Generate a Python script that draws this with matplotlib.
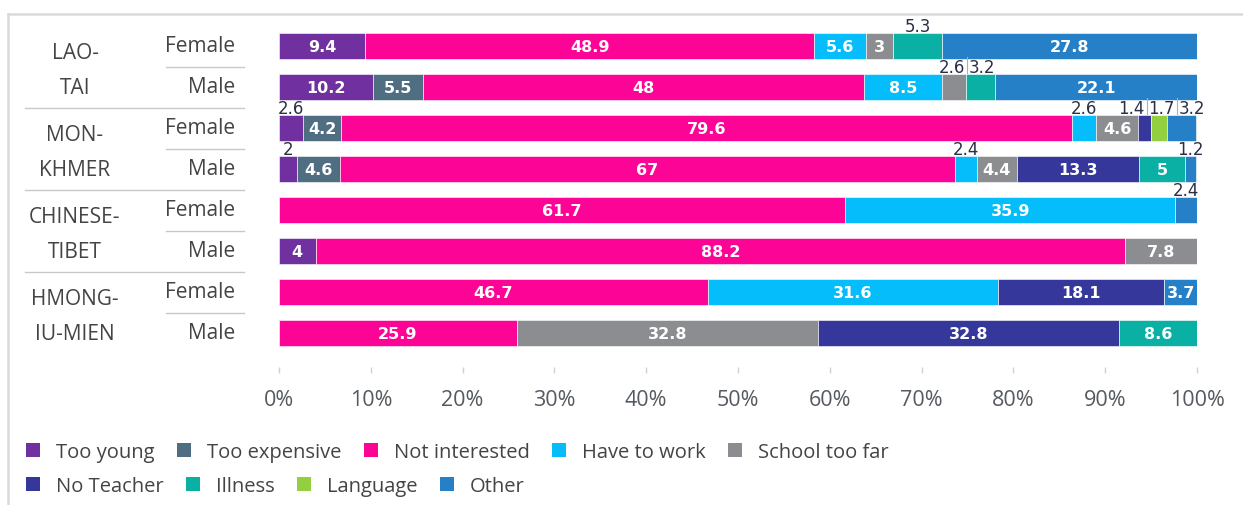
import matplotlib
matplotlib.use("Agg")
import matplotlib.pyplot as plt
from matplotlib.transforms import blended_transform_factory
from matplotlib.lines import Line2D
import numpy as np

# ---------------- data ----------------
groups = ["LAO-\nTAI", "MON-\nKHMER", "CHINESE-\nTIBET", "HMONG-\nIU-MIEN"]
sexes = ["Female", "Male"]
reasons = ["Too young", "Too expensive", "Not interested", "Have to work",
           "School too far", "No Teacher", "Illness", "Language", "Other"]

too_young      = [9.4, 10.2, 2.6, 2.0, 0, 4.0, 0, 0]
too_expensive  = [0, 5.5, 4.2, 4.6, 0, 0, 0, 0]
not_interested = [48.9, 48.0, 79.6, 67.0, 61.7, 88.2, 46.7, 25.9]
have_to_work   = [5.6, 8.5, 2.6, 2.4, 35.9, 0, 31.6, 0]
school_too_far = [3.0, 2.6, 4.6, 4.4, 0, 7.8, 0, 32.8]
no_teacher     = [0, 0, 1.4, 13.3, 0, 0, 18.1, 32.8]
illness        = [5.3, 3.2, 0, 5.0, 0, 0, 0, 8.6]
language       = [0, 0, 1.7, 0, 0, 0, 0, 0]
other          = [27.8, 22.1, 3.2, 1.2, 2.4, 0, 3.7, 0]

series = [too_young, too_expensive, not_interested, have_to_work,
          school_too_far, no_teacher, illness, language, other]
xticks = [0, 10, 20, 30, 40, 50, 60, 70, 80, 90, 100]
xticklabels = [f"{v}%" for v in xticks]

# style: colours and which value labels sit above the bar (row, series index)
colors = ["#7030a0", "#506e82", "#fc0596", "#05bdfb", "#8c8d90",
          "#35379a", "#0bb0a4", "#92d040", "#2680c8"]
labels_above = {(0, 6), (1, 4), (1, 6), (2, 0), (2, 3), (2, 5), (2, 7),
                (2, 8), (3, 0), (3, 3), (3, 8), (4, 8)}

# ---------------- figure ----------------
FONT = ["Open Sans", "DejaVu Sans"]
NUMFONT = ["DejaVu Sans"]
plt.rcParams["font.family"] = FONT
W, H = 1243, 506
fig = plt.figure(figsize=(W / 100, H / 100), dpi=100)

def fx(px):
    return px / W

def fy(py):
    return 1 - py / H

ax_left, ax_right = 279, 1197
ax_top, ax_bottom = 26.5, 368
ax = fig.add_axes([fx(ax_left), fy(ax_bottom), fx(ax_right - ax_left),
                   (ax_bottom - ax_top) / H])

n = len(not_interested)
rows = np.arange(n)
bar_h = 0.64
left = np.zeros(n)
containers = []
for vals, col, name in zip(series, colors, reasons):
    v = np.array(vals, dtype=float)
    c = ax.barh(rows, v, left=left, height=bar_h, color=col, label=name,
                edgecolor="white", linewidth=0.4)
    containers.append(c)
    left = left + v

ax.set_xlim(0, 100)
ax.set_ylim(7.5 + 13.5 / 41, -0.5)
ax.set_yticks([])
ax.set_xticks(xticks)
ax.set_xticklabels(xticklabels, fontsize=15.5, color="#555a60")
ax.tick_params(axis="x", length=4, color="#d0d0d0", pad=12, width=1)
for s in ax.spines.values():
    s.set_visible(False)

# ---------------- value labels ----------------
px_per_unit = (ax_right - ax_left) / 100.0
for r in rows:
    cum = 0.0
    outs = []
    seq = []
    for k, vals in enumerate(series):
        v = vals[r]
        if v <= 0:
            continue
        center = cum + v / 2
        txt = f"{v:g}"
        if (r, k) not in labels_above:
            ax.text(center, r + 0.02, txt, ha="center", va="center",
                    color="white", fontsize=11.5, fontweight="bold",
                    family=NUMFONT)
            seq.append(None)
        else:
            seq.append(len(outs))
            outs.append([center * px_per_unit, txt, 8 * len(txt) + 2])
        cum += v
    # spread overlapping outside labels
    for _ in range(60):
        moved = False
        for i in range(len(outs) - 1):
            need = (outs[i][2] + outs[i + 1][2]) / 2 + 4
            gap = outs[i + 1][0] - outs[i][0]
            if gap < need - 0.01:
                d = (need - gap) / 2
                outs[i][0] -= d
                outs[i + 1][0] += d
                moved = True
        if not moved:
            break
    for xpx, txt, _w in outs:
        ax.text(xpx / px_per_unit, r - bar_h / 2 + 0.04, txt, ha="center",
                va="bottom", color="#2a2f45", fontsize=12, clip_on=False,
                family=NUMFONT)
    for i in range(len(seq) - 1):
        if seq[i] is not None and seq[i + 1] is not None:
            a = outs[seq[i]][0]
            b = outs[seq[i + 1]][0]
            xm = (a + b) / 2 / px_per_unit
            ax.plot([xm, xm], [r - bar_h / 2 - 0.42, r - bar_h / 2 - 0.02],
                    color="#b0b0b0", lw=0.8, clip_on=False)

# ---------------- row / group labels ----------------
bt = blended_transform_factory(fig.transFigure, ax.transData)
for g, name in enumerate(groups):
    r0 = 2 * g
    line1, line2 = name.split("\n")
    ax.text(fx(75), r0 + 0.17, line1, transform=bt, ha="center", va="center",
            fontsize=15, color="#444444", clip_on=False)
    ax.text(fx(75), r0 + 1.02, line2, transform=bt, ha="center", va="center",
            fontsize=15, color="#444444", clip_on=False)
    for j, sx in enumerate(sexes):
        ax.text(fx(235), r0 + j - 0.01, sx, transform=bt, ha="right",
                va="center", fontsize=15, color="#444444", clip_on=False)
    ax.add_line(Line2D([fx(166), fx(244)], [r0 + 0.5, r0 + 0.5], transform=bt,
                       color="#c8c8c8", lw=1, clip_on=False))
    if g < len(groups) - 1:
        ax.add_line(Line2D([fx(25), fx(244)], [r0 + 1.5, r0 + 1.5],
                           transform=bt, color="#c8c8c8", lw=1, clip_on=False))

# ---------------- frame lines ----------------
fig.add_artist(Line2D([fx(8), 1], [fy(15), fy(15)], color="#dadada", lw=1.8))
fig.add_artist(Line2D([fx(8), fx(8)], [fy(15), 0], color="#dadada", lw=1.8))

# ---------------- legend ----------------
leg_kw = dict(frameon=False, fontsize=14.5, handlelength=0.7,
              handleheight=0.7, handletextpad=0.8, columnspacing=1.1,
              borderaxespad=0, borderpad=0, labelcolor="#444444")
leg1 = fig.legend(containers[:5], reasons[:5], ncol=5, loc="center left",
                  bbox_to_anchor=(fx(26), fy(453)), **leg_kw)
leg2 = fig.legend(containers[5:], reasons[5:], ncol=4, loc="center left",
                  bbox_to_anchor=(fx(26), fy(487)), **leg_kw)
for lg in (leg1, leg2):
    for p in lg.get_patches():
        p.set_edgecolor("none")

fig.savefig("out.png", dpi=100)
